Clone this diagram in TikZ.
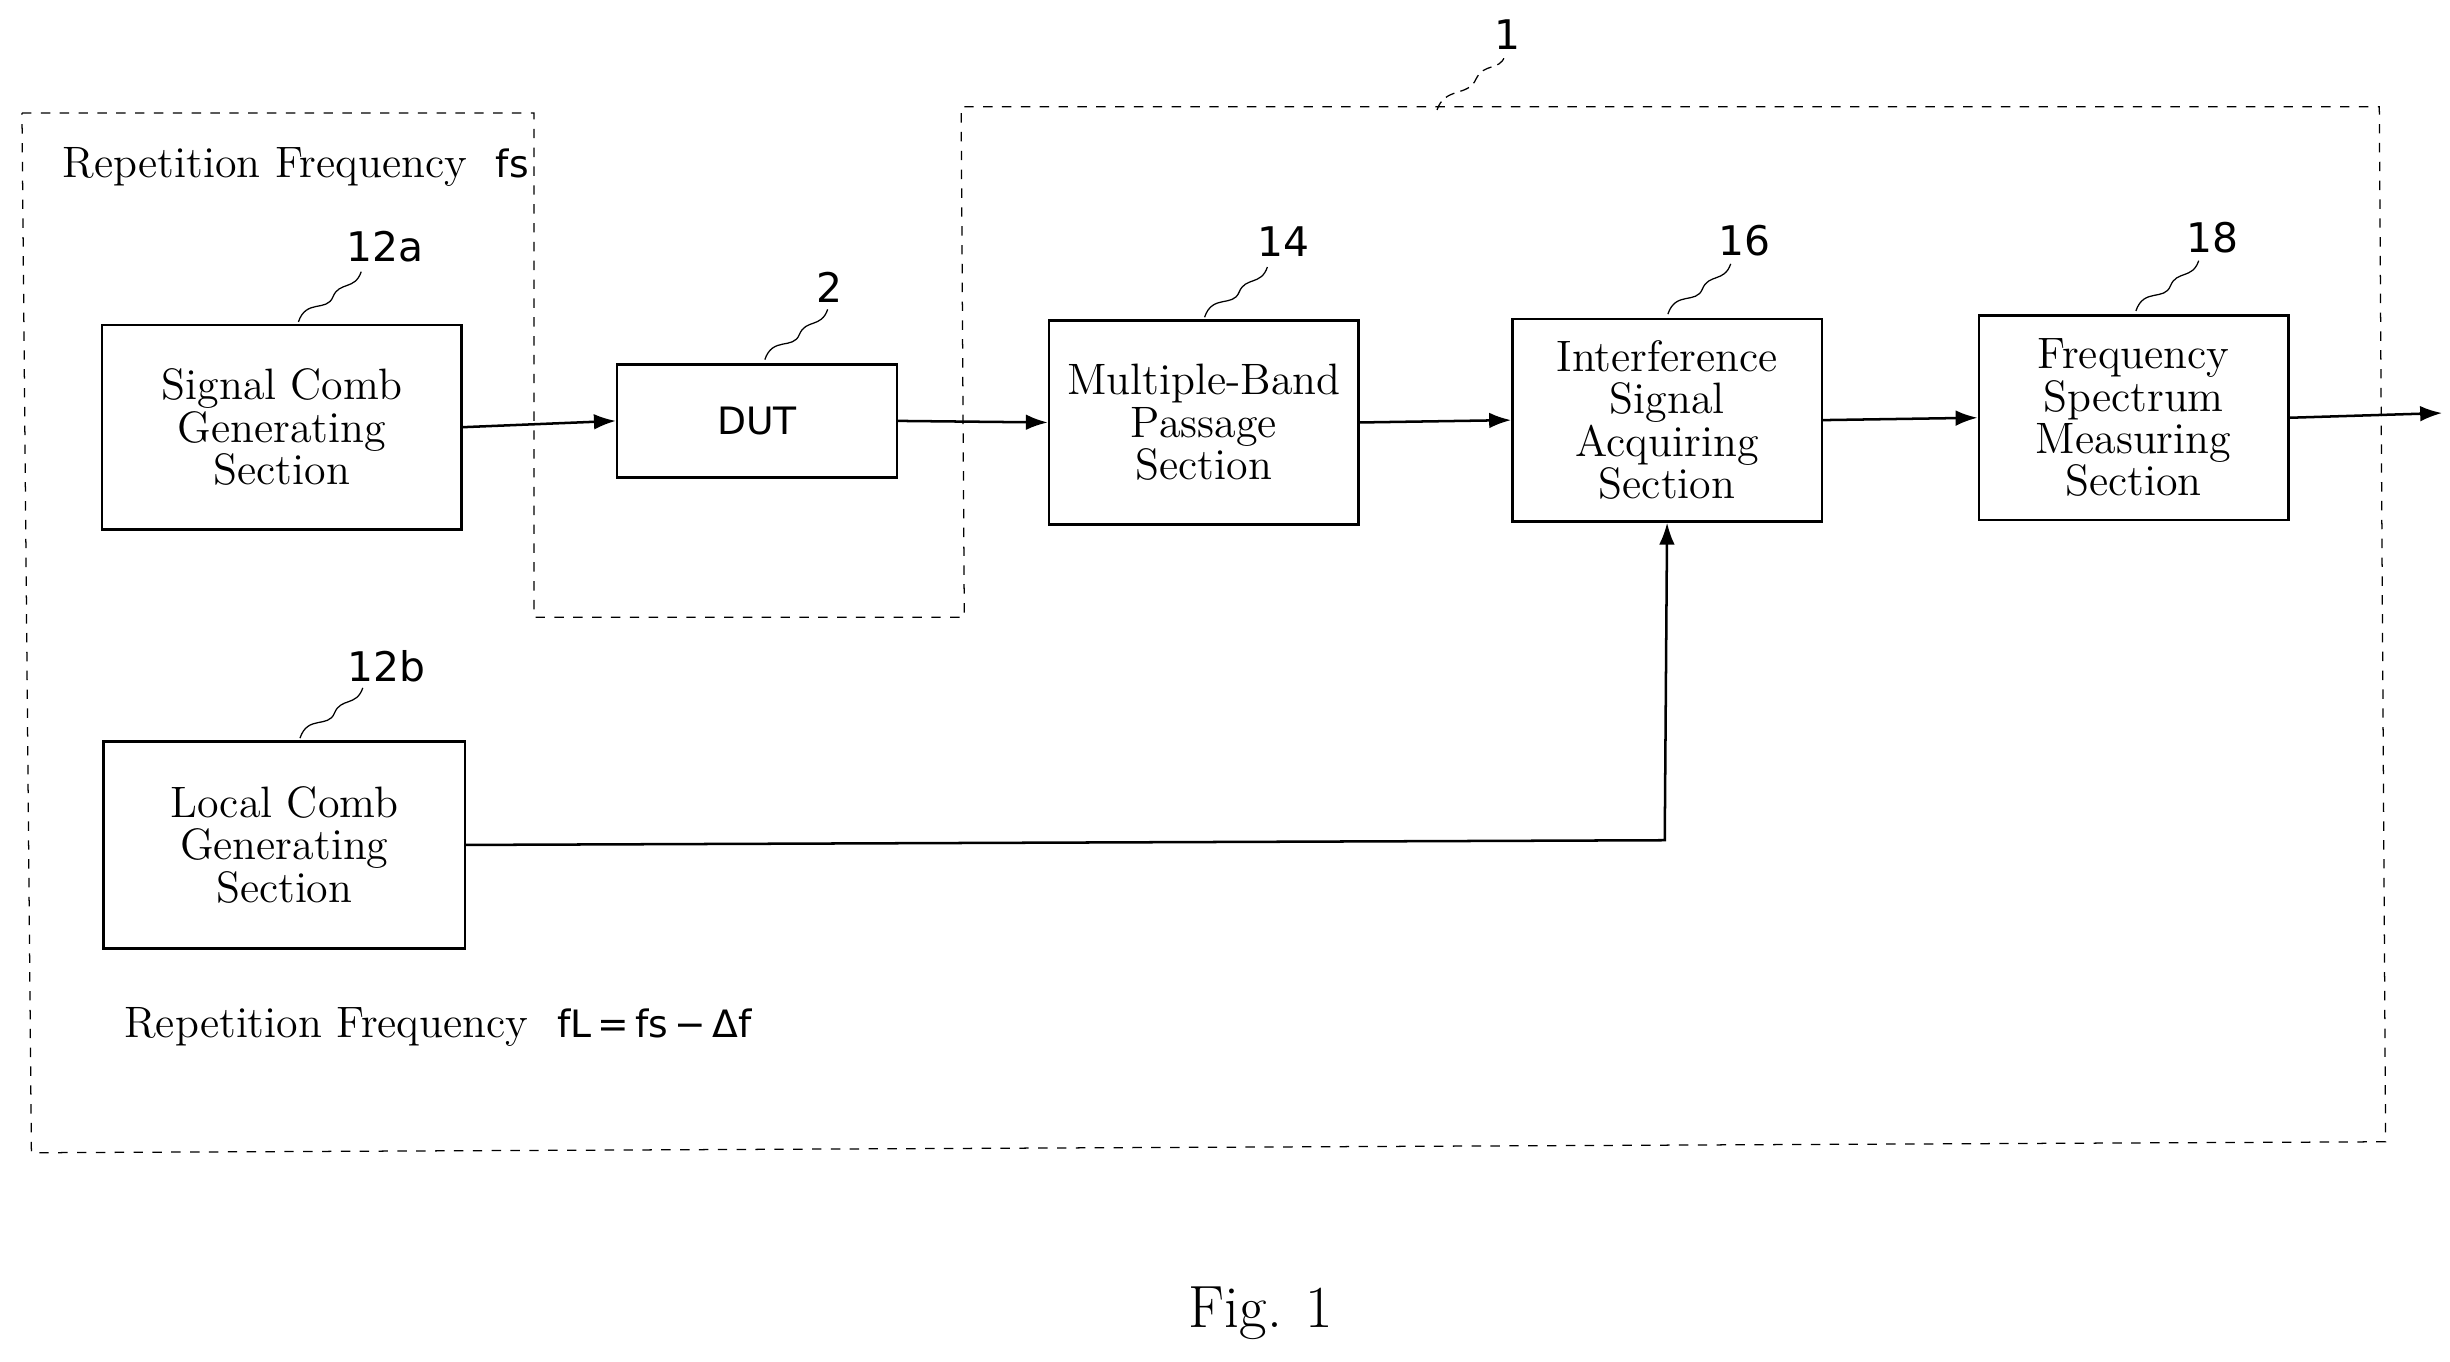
\documentclass[tikz,border=0pt]{standalone}
\usepackage{fontspec}
\usetikzlibrary{arrows.meta}
\setmainfont{Latin Modern Roman}
\setsansfont{DejaVu Sans}
\begin{document}
\begin{tikzpicture}[x=0.5pt,y=-0.5pt,
 box/.style={draw,thick,minimum width=0pt,inner sep=0pt},
 lab/.style={font=\sffamily\fontsize{13}{13}\selectfont},
 arr/.style={thick,-{Latex[length=7pt,width=5pt]}},
 txt/.style={font=\fontsize{14}{13.5}\selectfont,align=center}]
\useasboundingbox (0,0) rectangle (1560,867);
\node[box,minimum width=114.5pt,minimum height=65pt,txt] (sc) at (179.5,272) {Signal Comb\\Generating\\Section};
\node[box,minimum width=89pt,minimum height=36pt,font=\sffamily\fontsize{12}{12}\selectfont] (dut) at (482,268) {DUT};
\node[box,minimum width=98.5pt,minimum height=65pt,txt] (mb) at (766.5,269) {Multiple-Band\\Passage\\Section};
\node[box,minimum width=98.5pt,minimum height=64.5pt,txt] (is) at (1061.5,267.5) {Interference\\Signal\\Acquiring\\Section};
\node[box,minimum width=98.5pt,minimum height=65pt,txt] (fs) at (1358.5,266) {Frequency\\Spectrum\\Measuring\\Section};
\node[box,minimum width=115pt,minimum height=66pt,txt] (lc) at (181,538) {Local Comb\\Generating\\Section};
\coordinate (out) at (1555,263);
\draw[arr] (sc.east) -- (dut.west);
\draw[arr] (dut.east) -- (mb.west);
\draw[arr] (mb.east) -- (is.west);
\draw[arr] (is.east) -- (fs.west);
\draw[arr] (fs.east) -- (out);
\draw[arr] (lc.east) -- (1060,535) -- (is.south);
\draw[dashed] (14,72) -- (340,72) -- (340,393) -- (614,393) -- (612,68) -- (1515,68) -- (1519,727) -- (20,734) -- cycle;
\node[font=\fontsize{14}{14}\selectfont,anchor=west] (t1) at (33,106) {Repetition Frequency\ \ \textsf{\fontsize{12}{12}\selectfont fs}};
\node[font=\fontsize{14}{14}\selectfont,anchor=west] (t2) at (72,654) {Repetition Frequency\ \ \textsf{\fontsize{12}{12}\selectfont fL\,=\,fs\,−\,Δf}};
\node[font=\fontsize{19}{19}\selectfont] (fig) at (803,836) {Fig. 1};
\node[lab] (n1) at (960,22) {1};
\node[lab] (n12a) at (245,157) {12a};
\node[lab] (n2) at (528,183) {2};
\node[lab] (n14) at (817,154) {14};
\node[lab] (n16) at (1111,153) {16};
\node[lab] (n18) at (1409,151) {18};
\node[lab] (n12b) at (246,424) {12b};
\draw[densely dashed] (915,70) .. controls (920,55) and (935,62) .. (940,50) .. controls (945,40) and (955,45) .. (958,36);
\foreach \x/\y in {190/205,487/229,767/202,1062/200,1360/198,191/470}{
 \draw (\x,\y) .. controls (\x+5,\y-15) and (\x+18,\y-6) .. (\x+22,\y-16) .. controls (\x+26,\y-26) and (\x+36,\y-20) .. (\x+40,\y-32);
}
\end{tikzpicture}
\end{document}
